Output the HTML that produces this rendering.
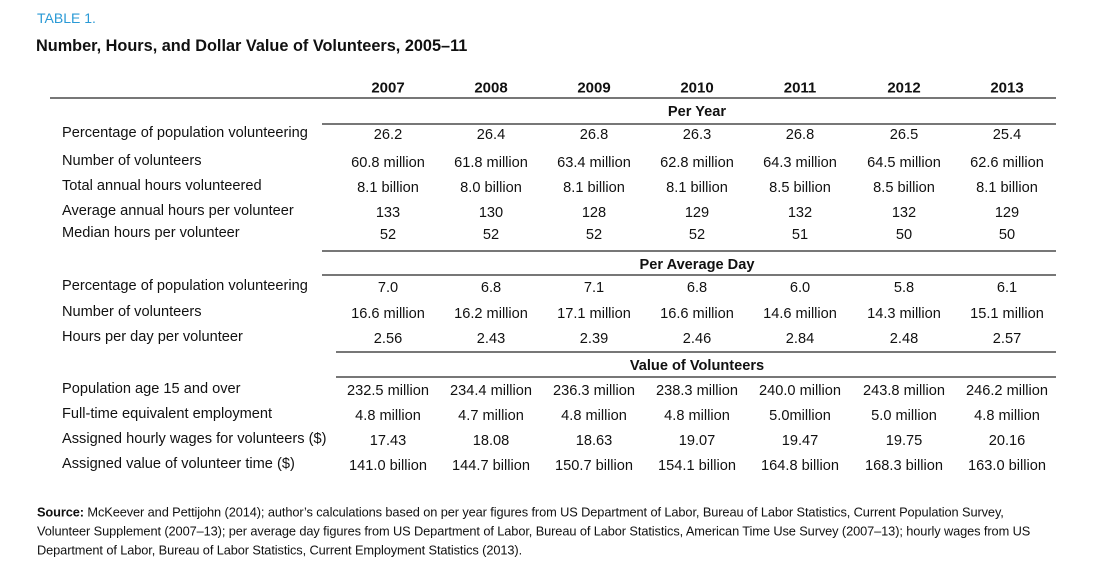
<!DOCTYPE html>
<html><head><meta charset="utf-8"><style>
body{margin:0;width:1099px;height:582px;background:#fff;position:relative;font-family:"Liberation Sans",sans-serif;color:#111;overflow:hidden}
.a{position:absolute;white-space:nowrap}
.l{left:62px;font-size:14.6px;transform:translateY(-50%)}
.c{font-size:14.6px;transform:translate(-50%,-50%);text-align:center}
.h{font-weight:bold}
.ln{position:absolute;height:1.5px;background:#777}
.s{left:37px;font-size:12.8px;transform:translateY(-50%);letter-spacing:-0.1px}
</style></head><body>
<div class="a" style="left:37px;top:10px;font-size:14px;color:#2a9ad6">TABLE 1.</div>
<div class="a h" style="left:36px;top:37px;font-size:16.3px">Number, Hours, and Dollar Value of Volunteers, 2005–11</div>
<div class="ln" style="left:50px;top:97px;width:1006px"></div>
<div class="ln" style="left:322px;top:123px;width:734px"></div>
<div class="ln" style="left:322px;top:250px;width:734px"></div>
<div class="ln" style="left:322px;top:274px;width:734px"></div>
<div class="ln" style="left:336px;top:351px;width:720px"></div>
<div class="ln" style="left:336px;top:376px;width:720px"></div>
<div id="t"></div>
<script>
var cols=[388,491,594,697,800,904,1007];
var h='';
["2007","2008","2009","2010","2011","2012","2013"].forEach(function(y,i){h+='<div class="a c h" style="left:'+cols[i]+'px;top:88px;font-size:15px">'+y+'</div>';});
h+='<div class="a c h" style="left:697px;top:112px">Per Year</div>';
h+='<div class="a c h" style="left:697px;top:265px">Per Average Day</div>';
h+='<div class="a c h" style="left:697px;top:366px">Value of Volunteers</div>';
var rows=[
[134,"Percentage of population volunteering",["26.2","26.4","26.8","26.3","26.8","26.5","25.4"]],
[162,"Number of volunteers",["60.8 million","61.8 million","63.4 million","62.8 million","64.3 million","64.5 million","62.6 million"]],
[187,"Total annual hours volunteered",["8.1 billion","8.0 billion","8.1 billion","8.1 billion","8.5 billion","8.5 billion","8.1 billion"]],
[212,"Average annual hours per volunteer",["133","130","128","129","132","132","129"]],
[234,"Median hours per volunteer",["52","52","52","52","51","50","50"]],
[287,"Percentage of population volunteering",["7.0","6.8","7.1","6.8","6.0","5.8","6.1"]],
[313,"Number of volunteers",["16.6 million","16.2 million","17.1 million","16.6 million","14.6 million","14.3 million","15.1 million"]],
[338,"Hours per day per volunteer",["2.56","2.43","2.39","2.46","2.84","2.48","2.57"]],
[390,"Population age 15 and over",["232.5 million","234.4 million","236.3 million","238.3 million","240.0 million","243.8 million","246.2 million"]],
[415,"Full-time equivalent employment",["4.8 million","4.7 million","4.8 million","4.8 million","5.0million","5.0 million","4.8 million"]],
[440,"Assigned hourly wages for volunteers ($)",["17.43","18.08","18.63","19.07","19.47","19.75","20.16"]],
[465,"Assigned value of volunteer time ($)",["141.0 billion","144.7 billion","150.7 billion","154.1 billion","164.8 billion","168.3 billion","163.0 billion"]]];
rows.forEach(function(r){
 h+='<div class="a l" style="top:'+(r[0]-1)+'px">'+r[1]+'</div>';
 r[2].forEach(function(v,i){h+='<div class="a c" style="left:'+cols[i]+'px;top:'+(r[0]+1)+'px">'+v+'</div>';});
});
document.getElementById('t').innerHTML=h;
</script>
<div class="a s" style="top:512px"><b>Source:</b> McKeever and Pettijohn (2014); author’s calculations based on per year figures from US Department of Labor, Bureau of Labor Statistics, Current Population Survey,</div>
<div class="a s" style="top:531px">Volunteer Supplement (2007–13); per average day figures from US Department of Labor, Bureau of Labor Statistics, American Time Use Survey (2007–13); hourly wages from US</div>
<div class="a s" style="top:550px">Department of Labor, Bureau of Labor Statistics, Current Employment Statistics (2013).</div>
</body></html>
